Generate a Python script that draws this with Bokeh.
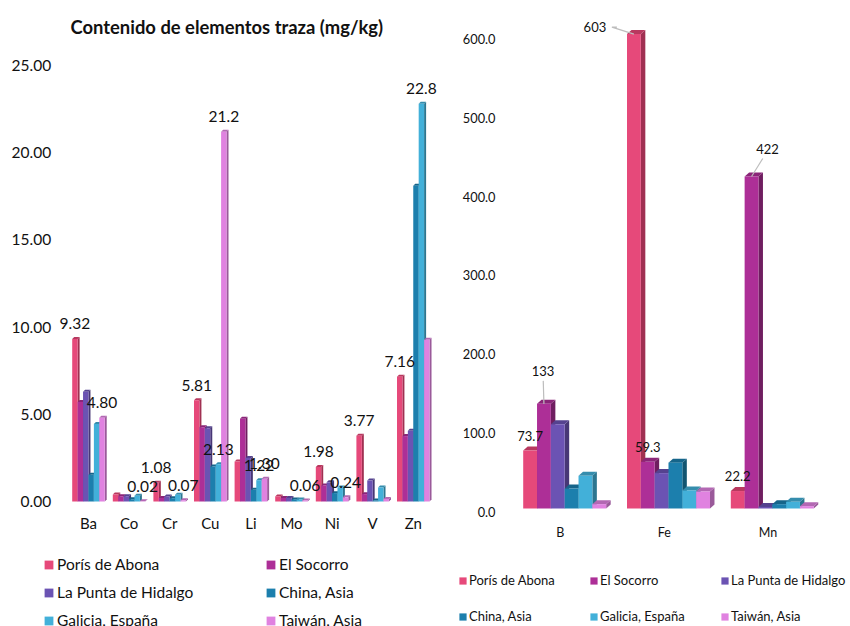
from bokeh.embed import file_html
from bokeh.layouts import row
from bokeh.models import ColumnDataSource, FixedTicker, Label, Legend, LegendItem, NumeralTickFormatter
from bokeh.plotting import figure
from bokeh.resources import INLINE

SERIES = ["Porís de Abona", "El Socorro", "La Punta de Hidalgo", "China, Asia", "Galicia, España", "Taiwán, Asia"]
FRONT = ["#E6497A", "#AD2F97", "#6B53B3", "#1C7FAD", "#42B0D9", "#E082E0"]
TOP = ["#B8385F", "#8A2578", "#55428F", "#16658A", "#358DAD", "#B368B3"]
SIDE = ["#A03052", "#6F1E60", "#473775", "#125571", "#2C7690", "#9A5A9A"]

TRACE_ELEMENTS = ["Ba", "Co", "Cr", "Cu", "Li", "Mo", "Ni", "V", "Zn"]
TRACE_PORIS = [9.32, 0.40, 1.08, 5.81, 2.30, 0.29, 1.98, 3.77, 7.16]
TRACE_SOCORRO = [5.70, 0.30, 0.20, 4.26, 4.75, 0.20, 0.92, 0.42, 3.75]
TRACE_PUNTA = [6.30, 0.30, 0.29, 4.20, 2.50, 0.20, 1.10, 1.20, 4.05]
TRACE_CHINA = [1.53, 0.13, 0.18, 2.00, 0.67, 0.12, 0.48, 0.06, 18.10]
TRACE_GALICIA = [4.44, 0.33, 0.38, 2.13, 1.22, 0.12, 0.80, 0.80, 22.80]
TRACE_TAIWAN = [4.80, 0.02, 0.07, 21.20, 1.30, 0.06, 0.24, 0.15, 9.28]
TRACE_VALUES = [TRACE_PORIS, TRACE_SOCORRO, TRACE_PUNTA, TRACE_CHINA, TRACE_GALICIA, TRACE_TAIWAN]
TRACE_TICKS = [0, 5, 10, 15, 20, 25]
# (series index, element index, text) of the values printed over the bars
TRACE_LABELS = [
    (0, 0, "9.32"), (5, 0, "4.80"), (5, 1, "0.02"), (0, 2, "1.08"), (5, 2, "0.07"),
    (0, 3, "5.81"), (4, 3, "2.13"), (5, 3, "21.2"), (4, 4, "1.22"), (5, 4, "1.30"),
    (5, 5, "0.06"), (0, 6, "1.98"), (5, 6, "0.24"), (0, 7, "3.77"), (0, 8, "7.16"),
    (4, 8, "22.8"),
]

MAJOR_ELEMENTS = ["B", "Fe", "Mn"]
MAJOR_PORIS = [73.7, 603.0, 22.2]
MAJOR_SOCORRO = [133.0, 59.3, 422.0]
MAJOR_PUNTA = [107.0, 45.0, 2.0]
MAJOR_CHINA = [25.4, 58.3, 5.5]
MAJOR_GALICIA = [41.5, 23.0, 8.5]
MAJOR_TAIWAN = [5.5, 21.6, 3.0]
MAJOR_VALUES = [MAJOR_PORIS, MAJOR_SOCORRO, MAJOR_PUNTA, MAJOR_CHINA, MAJOR_GALICIA, MAJOR_TAIWAN]
MAJOR_TICKS = [0, 100, 200, 300, 400, 500, 600]
MAJOR_LABELS = [(0, 0, "73.7"), (1, 0, "133"), (0, 1, "603"), (1, 1, "59.3"), (0, 2, "22.2"), (1, 2, "422")]
# Labels pulled away from their bars, with a leader line: (series, element, dx px, dy px)
MAJOR_LEADERS = [(1, 0, -1, 33), (0, 1, -39, 7), (1, 2, 16, 28)]

FONT = "Lato"
INK = "#111111"
HEIGHT = 626


def panel(width, frame_x, period, zero_y, px_per_unit, cats, y_ticks, tick_format, tick_size, cat_size, y_standoff, x_standoff):
    """The frame fills the whole figure; axes sit at fixed data positions inside it."""
    p = figure(
        width=width, height=HEIGHT, output_backend="svg", toolbar_location=None,
        x_range=(-frame_x / period, (width - frame_x) / period),
        y_range=(-(HEIGHT - zero_y) / px_per_unit, zero_y / px_per_unit),
        min_border=0,
    )
    p.outline_line_color = None
    p.grid.visible = False
    for ax in (p.xaxis[0], p.yaxis[0]):
        ax.axis_line_color = None
        ax.major_tick_line_color = None
        ax.minor_tick_line_color = None
        ax.major_label_text_font = FONT
        ax.major_label_text_color = INK
        ax.fixed_location = 0
    p.yaxis[0].ticker = FixedTicker(ticks=y_ticks)
    p.yaxis[0].formatter = NumeralTickFormatter(format=tick_format)
    p.yaxis[0].major_label_text_font_size = tick_size
    p.yaxis[0].major_label_standoff = y_standoff
    p.xaxis[0].ticker = FixedTicker(ticks=[i + 0.5 for i in range(len(cats))])
    p.xaxis[0].major_label_overrides = {i + 0.5: c for i, c in enumerate(cats)}
    p.xaxis[0].major_label_text_font_size = cat_size
    p.xaxis[0].major_label_standoff = x_standoff
    return p


def bars3d(p, values, group_start, bar_w, depth_x, depth_y, lift=0.0):
    """Front, top and side faces of each bar; all lengths are in data units."""
    renderers = []
    for s, vals in enumerate(values):
        lefts = [i + group_start + s * bar_w for i in range(len(vals))]
        rights = [x + bar_w for x in lefts]
        tops = [v + lift for v in vals]
        side_xs = [[r, r + depth_x, r + depth_x, r] for r in rights]
        side_ys = [[lift, lift + depth_y, t + depth_y, t] for t in tops]
        top_xs = [[a, a + depth_x, b + depth_x, b] for a, b in zip(lefts, rights)]
        top_ys = [[t, t + depth_y, t + depth_y, t] for t in tops]
        p.patches(side_xs, side_ys, fill_color=SIDE[s], line_color=None)
        p.patches(top_xs, top_ys, fill_color=TOP[s], line_color=None)
        r = p.quad(left=lefts, right=rights, bottom=lift, top=tops, fill_color=FRONT[s], line_color=None)
        renderers.append(r)
    return renderers


def value_labels(p, values, labels, group_start, bar_w, size, lift=0.0, leaders=()):
    moved = {(s, c): (dx, dy) for s, c, dx, dy in leaders}
    xs, ys, txt, ox, oy = [], [], [], [], []
    for s, c, t in labels:
        dx, dy = moved.get((s, c), (0, 15))
        xs.append(c + group_start + (s + 0.5) * bar_w)
        ys.append(values[s][c] + lift)
        txt.append(t)
        ox.append(dx)
        oy.append(-dy)
    src = ColumnDataSource(dict(x=xs, y=ys, t=txt, ox=ox, oy=oy))
    p.text("x", "y", text="t", source=src, x_offset="ox", y_offset="oy", text_align="center",
           text_baseline="middle", text_font_size=size, text_font={"value": FONT}, text_color=INK)


def add_legend(p, renderers, ncols, loc, glyph, standoff, label_w, label_h, size):
    items = [LegendItem(label=n, renderers=[r]) for n, r in zip(SERIES, renderers)]
    leg = Legend(
        items=items, ncols=ncols, location=loc, orientation="horizontal", border_line_color=None,
        background_fill_alpha=0, glyph_width=glyph, glyph_height=glyph, label_standoff=standoff,
        label_width=label_w, label_height=label_h, label_text_font=FONT, label_text_font_size=size,
        label_text_color=INK, spacing=0, margin=0, padding=0,
    )
    p.add_layout(leg, "center")


# Trace elements, mg/kg: 17.44 px per unit, zero line at y=501
TRACE_PERIOD = 40.6
left = panel(450, 67.7, TRACE_PERIOD, 501, 17.44, TRACE_ELEMENTS, TRACE_TICKS, "0.00", "15.5px", "15px", 11, 6)
ppx = 1 / TRACE_PERIOD
bar = 5.42 * ppx
rs = bars3d(left, TRACE_VALUES, 4 * ppx, bar, 2 * ppx, 2 / 17.44)
value_labels(left, TRACE_VALUES, TRACE_LABELS, 4 * ppx, bar, "15.5px")
add_legend(left, rs, 2, (43, -8), 11, 3, 208, 28, "15.5px")
left.add_layout(Label(x=2.3 * ppx, y=(501 - 26) / 17.44, text="Contenido de elementos traza (mg/kg)",
                      text_font=FONT, text_font_style="bold", text_font_size="18.4px", text_color=INK,
                      text_baseline="middle"))

# Major elements, mg/kg: 0.7867 px per unit, zero line at y=511; bars stand 3 px in front of it
MAJOR_PERIOD = 103.8
right = panel(400, 58, MAJOR_PERIOD, 511, 0.7867, MAJOR_ELEMENTS, MAJOR_TICKS, "0.0", "12.8px", "12.5px", 7, 7)
rpx = 1 / MAJOR_PERIOD
bar_r = 13.83 * rpx
lift = 3 / 0.7867
rr = bars3d(right, MAJOR_VALUES, 14.7 * rpx, bar_r, 4.5 * rpx, 4 / 0.7867, lift)
value_labels(right, MAJOR_VALUES, MAJOR_LABELS, 14.7 * rpx, bar_r, "13px", lift, leaders=MAJOR_LEADERS)
add_legend(right, rr, 3, (8, -8), 9, 2, 120, 36, "13px")

# Leader lines from the moved labels down to their bars
for s, c, dx, dy in MAJOR_LEADERS:
    x = c + 14.7 * rpx + (s + 0.5) * bar_r
    y = MAJOR_VALUES[s][c] + lift
    if abs(dx) > dy:
        xs = [x, x + (dx + 17) * rpx, x + (dx + 22) * rpx]
        ys = [y, y + dy / 0.7867, y + dy / 0.7867]
    else:
        xs = [x, x + dx * 0.7 * rpx]
        ys = [y, y + (dy - 10) / 0.7867]
    right.line(xs, ys, line_color="#BDBDBD", line_width=1.2)

page = row(left, right, spacing=0)
open("out.html", "w").write(file_html(page, INLINE))
